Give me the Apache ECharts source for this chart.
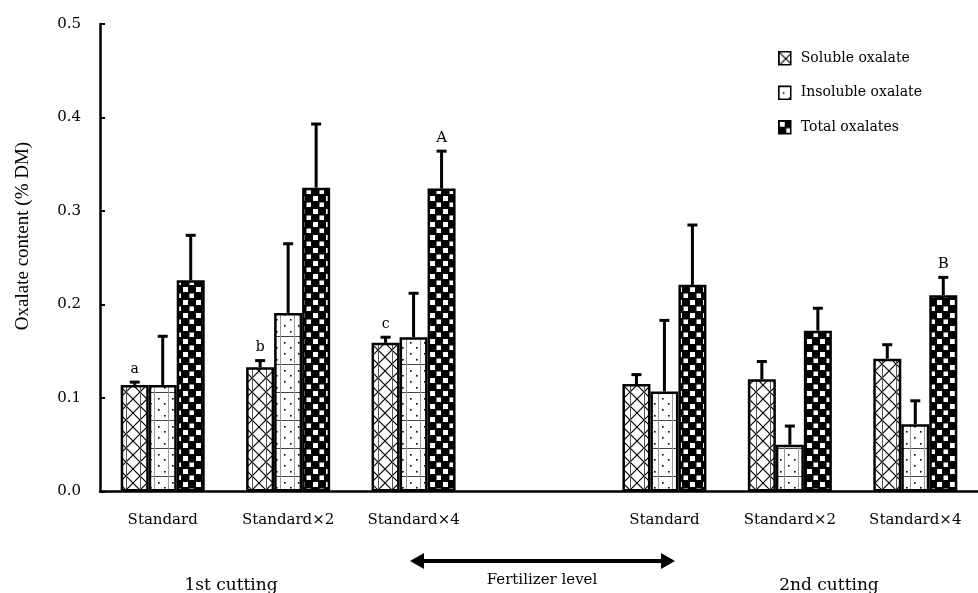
<!DOCTYPE html>
<html>
<head>
<meta charset="utf-8">
<script src="https://cdn.jsdelivr.net/npm/echarts@6/dist/echarts.min.js"></script>
<style>
  html, body { margin: 0; padding: 0; background: #fff; }
  #chart { width: 978px; height: 593px; }
</style>
</head>
<body>
<div id="chart"></div>
<script>
// ---- data ----
const categories = ['Standard', 'Standard×2', 'Standard×4', '', 'Standard', 'Standard×2', 'Standard×4'];
const seriesNames = ['Soluble oxalate', 'Insoluble oxalate', 'Total oxalates'];
const soluble      = [0.114, 0.133, 0.159, null, 0.115, 0.120, 0.142];
const solubleErr   = [0.003, 0.007, 0.006, null, 0.010, 0.019, 0.015];
const insoluble    = [0.114, 0.191, 0.165, null, 0.107, 0.050, 0.072];
const insolubleErr = [0.052, 0.074, 0.047, null, 0.076, 0.020, 0.025];
const total        = [0.226, 0.325, 0.324, null, 0.221, 0.172, 0.210];
const totalErr     = [0.048, 0.068, 0.040, null, 0.064, 0.024, 0.019];
const solubleLetters   = ['a', 'b', 'c', '', '', '', ''];
const insolubleLetters = ['', '', '', '', '', '', ''];
const totalLetters     = ['', '', 'A', '', '', '', 'B'];
const yTicks = [0, 0.1, 0.2, 0.3, 0.4, 0.5];

// ---- patterns ----
function makePattern(w, h, draw) {
  const c = document.createElement('canvas');
  c.width = w; c.height = h;
  const ctx = c.getContext('2d');
  draw(ctx, w, h);
  return { image: c, repeat: 'repeat' };
}
const solublePattern = makePattern(14, 14, (ctx, w, h) => {
  ctx.fillStyle = '#fff'; ctx.fillRect(0, 0, w, h);
  ctx.strokeStyle = '#000'; ctx.lineWidth = 1.2;
  ctx.beginPath();
  ctx.moveTo(0, 0); ctx.lineTo(w, h);
  ctx.moveTo(w, 0); ctx.lineTo(0, h);
  ctx.stroke();
  ctx.strokeStyle = '#555'; ctx.lineWidth = 1;
  ctx.beginPath(); ctx.moveTo(0.5, 0); ctx.lineTo(0.5, h); ctx.stroke();
});
const insolublePattern = makePattern(14, 28, (ctx, w, h) => {
  ctx.fillStyle = '#fff'; ctx.fillRect(0, 0, w, h);
  ctx.fillStyle = '#000';
  [[4, 6], [10, 11], [4, 17], [10, 23]].forEach(p => ctx.fillRect(p[0], p[1], 1.6, 1.6));
  ctx.strokeStyle = '#444'; ctx.lineWidth = 1;
  ctx.beginPath(); ctx.moveTo(0, 0.5); ctx.lineTo(w, 0.5); ctx.stroke();
  ctx.strokeStyle = '#999';
  ctx.beginPath(); ctx.moveTo(0.5, 0); ctx.lineTo(0.5, h); ctx.stroke();
});
const totalPattern = makePattern(13, 13, (ctx, w, h) => {
  ctx.fillStyle = '#000'; ctx.fillRect(0, 0, w, h);
  ctx.fillStyle = '#fff';
  ctx.fillRect(1, 1, 5, 5);
  ctx.fillRect(7.5, 7.5, 4.5, 4.5);
});
const patterns = [solublePattern, insolublePattern, totalPattern];

const BAR_W = 28;
const FONT = 'DejaVu Serif';

const values = [soluble, insoluble, total];
const errs = [solubleErr, insolubleErr, totalErr];
const letters = [solubleLetters, insolubleLetters, totalLetters];

const series = [];
seriesNames.forEach((name, k) => {
  series.push({
    name: name,
    type: 'bar',
    data: values[k],
    barWidth: BAR_W,
    barGap: '0%',
    itemStyle: { color: patterns[k], borderColor: '#000', borderWidth: 2.5 },
    z: 2
  });
});
seriesNames.forEach((name, k) => {
  const data = values[k].map((v, i) => v == null ? null : [i, v, errs[k][i]]);
  series.push({
    type: 'custom',
    name: name + ' error',
    data: data.filter(d => d),
    z: 5,
    silent: true,
    renderItem: function (params, api) {
      const i = api.value(0), v = api.value(1), e = api.value(2);
      const base = api.coord([i, v]);
      const top = api.coord([i, v + e]);
      const x = base[0] + (k - 1) * BAR_W;
      const children = [
        { type: 'line', shape: { x1: x, y1: base[1], x2: x, y2: top[1] },
          style: { stroke: '#000', lineWidth: 3 } },
        { type: 'line', shape: { x1: x - 5, y1: top[1], x2: x + 5, y2: top[1] },
          style: { stroke: '#000', lineWidth: 3 } }
      ];
      const letter = letters[k][i];
      if (letter) {
        children.push({ type: 'text', style: {
          text: letter, x: x, y: top[1] - 13, align: 'center', verticalAlign: 'middle',
          font: (letter === letter.toUpperCase() ? '15px ' : '14px ') + '"' + FONT + '"', fill: '#000' } });
      }
      return { type: 'group', children: children };
    }
  });
});

const chart = echarts.init(document.getElementById('chart'), null, { renderer: 'canvas' });
chart.setOption({
  animation: false,
  backgroundColor: '#fff',
  grid: { left: 100, right: -7.5, top: 24, bottom: 101.5, containLabel: false },
  legend: {
    data: seriesNames,
    orient: 'vertical',
    left: 778,
    top: 51,
    padding: 0,
    icon: 'rect',
    itemWidth: 12,
    itemHeight: 13,
    itemGap: 20,
    itemStyle: { borderColor: '#000', borderWidth: 1.5 },
    textStyle: { fontFamily: FONT, fontSize: 14, color: '#000', lineHeight: 14, padding: [0, 0, 0, 5] }
  },
  xAxis: {
    type: 'category',
    data: categories,
    boundaryGap: true,
    axisLine: { lineStyle: { color: '#000', width: 2.5 } },
    axisTick: { inside: true, length: 5, lineStyle: { color: '#000', width: 1.5 } },
    axisLabel: { color: '#000', fontFamily: FONT, fontSize: 15, margin: 21, interval: 0 },
    splitLine: { show: false }
  },
  yAxis: {
    type: 'value',
    min: yTicks[0],
    max: yTicks[yTicks.length - 1],
    interval: 0.1,
    axisLine: { show: true, lineStyle: { color: '#000', width: 2.5 } },
    axisTick: { show: true, inside: true, length: 5, lineStyle: { color: '#000', width: 2 } },
    axisLabel: { color: '#000', fontFamily: FONT, fontSize: 15, margin: 19, formatter: v => v.toFixed(1) },
    splitLine: { show: false }
  },
  graphic: [
    { type: 'text', x: 23, y: 236, rotation: Math.PI / 2,
      style: { text: 'Oxalate content (% DM)', font: '19px "Liberation Serif"', fill: '#000',
               align: 'center', verticalAlign: 'middle' } },
    { type: 'line', shape: { x1: 420, y1: 561, x2: 665, y2: 561 },
      style: { stroke: '#000', lineWidth: 4 } },
    { type: 'polygon', shape: { points: [[410, 561], [424, 553], [424, 569]] }, style: { fill: '#000' } },
    { type: 'polygon', shape: { points: [[675, 561], [661, 553], [661, 569]] }, style: { fill: '#000' } },
    { type: 'text', x: 542, y: 580,
      style: { text: 'Fertilizer level', font: '15px "' + FONT + '"', fill: '#000', align: 'center', verticalAlign: 'middle' } },
    { type: 'text', x: 231, y: 586,
      style: { text: '1st cutting', font: '17px "' + FONT + '"', fill: '#000', align: 'center', verticalAlign: 'middle' } },
    { type: 'text', x: 829, y: 586,
      style: { text: '2nd cutting', font: '17px "' + FONT + '"', fill: '#000', align: 'center', verticalAlign: 'middle' } }
  ],
  series: series
});
</script>
</body>
</html>
